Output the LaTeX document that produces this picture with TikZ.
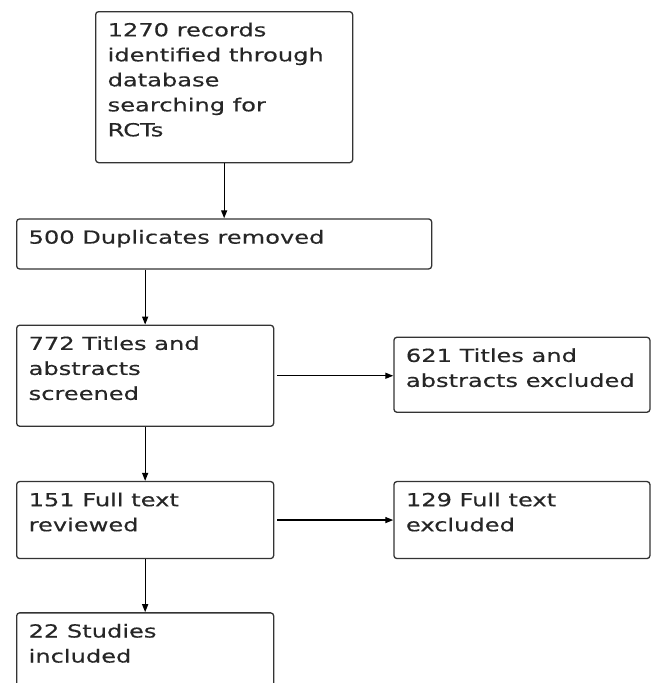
\documentclass[tikz,border=0pt]{standalone}
\usepackage{fontspec}
\usepackage{tikz}
\newfontfamily\flowfont{DejaVu Sans}[FakeStretch=1.34,FakeBold=0.4]
\usetikzlibrary{positioning,arrows.meta}
\newcommand{\boxtext}[3]{\parbox[t][#2][t]{#1}{#3}}

\begin{document}
\begin{tikzpicture}[flow box/.style={draw=black!80, line width=1.3pt, rounded corners=3pt, inner xsep=12pt, inner ysep=11pt, font=\flowfont\fontsize{18pt}{25pt}\selectfont, text=black!85}, >={Triangle[length=8pt,width=6pt]}, node distance=55pt]
    \useasboundingbox (0,0) rectangle (651pt,-683pt);

    \node[flow box, anchor=north west] (records) at (95pt,-11pt) {\boxtext{233pt}{129pt}{1270 records\\identified through\\database\\searching for\\RCTs}};
    \node[flow box, below=of records] (dups) {\boxtext{391pt}{28pt}{500 Duplicates removed}};
    \node[flow box, below=55pt of dups.south west, anchor=north west] (screen) {\boxtext{233pt}{79pt}{772 Titles and\\abstracts\\screened}};
    \node[flow box, right=119pt of screen, yshift=1pt] (absexcl) {\boxtext{232pt}{53pt}{621 Titles and\\abstracts excluded}};
    \node[flow box, below=54pt of screen] (fulltext) {\boxtext{233pt}{55pt}{151 Full text\\reviewed}};
    \node[flow box, right=119pt of fulltext] (fullexcl) {\boxtext{232pt}{55pt}{129 Full text\\excluded}};
    \node[flow box, below=53pt of fulltext] (studies) {\boxtext{233pt}{55pt}{22 Studies\\included}};

    \draw[->, line width=1.3pt] (records.south) -- (records.south |- dups.north);
    \draw[->, line width=1.3pt] (screen.north |- dups.south) -- (screen.north);
    \draw[->, line width=1.3pt] ([xshift=3pt]screen.east) -- (screen.east -| absexcl.west);
    \draw[->, line width=1.3pt] (screen) -- (fulltext);
    \draw[->, line width=1.3pt] ([xshift=3pt]fulltext.east) -- (fullexcl);
    \draw[->, line width=1.3pt] (fulltext) -- (studies);

\end{tikzpicture}
\end{document}
